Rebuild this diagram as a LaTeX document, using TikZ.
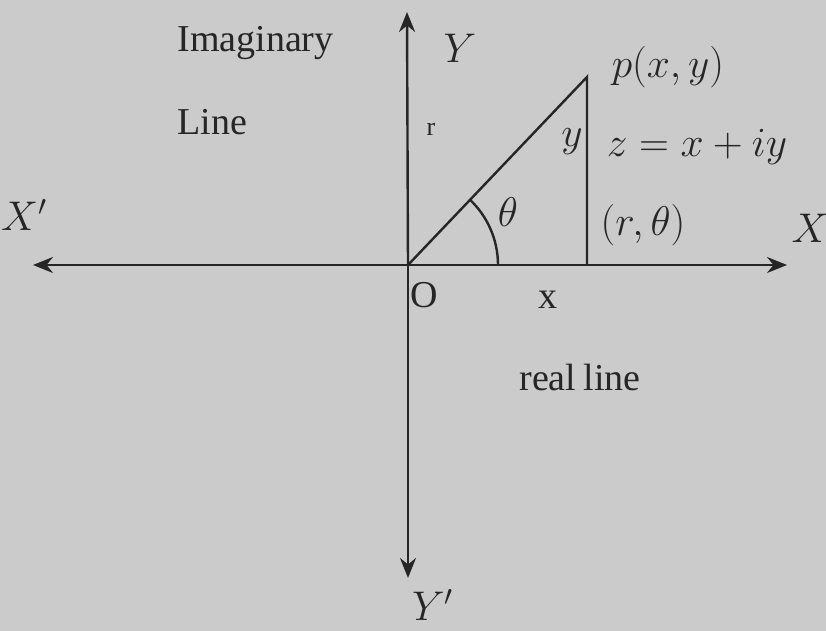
\documentclass[tikz,border=0pt]{standalone}
\usepackage{fontspec}
\setmainfont{Liberation Serif}
\usetikzlibrary{arrows.meta}
\definecolor{paper}{HTML}{CACBCA}
\definecolor{ink}{HTML}{262626}
\begin{document}
\begin{tikzpicture}[x=0.5pt, y=0.5pt,
  lbl/.style={text=ink, inner sep=0pt, font=\fontsize{19}{23}\selectfont},
  mth/.style={text=ink, inner sep=0pt, font=\fontsize{20.5}{25}\selectfont},
  axis/.style={draw=ink, line width=1.2pt, -{Stealth[length=10pt, width=8pt]}}]
\fill[paper] (0,0) rectangle (826,631);
\useasboundingbox (0,0) rectangle (826,631);

% axes
\coordinate (o) at (408,366);
\coordinate (xr) at (787,366);
\coordinate (xl) at (33,366);
\coordinate (yt) at (407,619);
\coordinate (yb) at (408,53);
\draw[axis] (o) -- (xr);
\draw[axis] (o) -- (xl);
\draw[axis] (o) -- (yt);
\draw[axis] (o) -- (yb);

% triangle
\coordinate (p) at (587,554);
\coordinate (f) at (587,366);
\draw[ink, line width=1.2pt] (o) -- (p) -- (f);
\draw[ink, line width=1.2pt] (498,366) arc (0:46.4:90);

% labels
\node[lbl, anchor=west] (im) at (177,588) {Imaginary};
\node[lbl, anchor=west] (ln) at (177,509) {Line};
\node[mth] (ylab) at (460,583) {$Y$};
\node[lbl, font=\fontsize{13}{15}\selectfont] (r) at (431,502) {r};
\node[mth] (pxy) at (668,564) {$p(x,y)$};
\node[mth] (yy) at (572,489) {$y$};
\node[mth] (z) at (697,484) {$z=x+iy$};
\node[mth] (th) at (508,419) {$\theta$};
\node[mth] (rth) at (643,406) {$(r,\theta)$};
\node[mth] (xp) at (24,416) {$X'$};
\node[mth] (xlab) at (810,403) {$X$};
\node[lbl] (olab) at (424,336) {O};
\node[lbl] (xx) at (548,331) {x};
\node[lbl, anchor=west] (rl) at (519,253) {real\hspace{-1pt} line};
\node[mth] (yp) at (433,26) {$Y'$};
\end{tikzpicture}
\end{document}
